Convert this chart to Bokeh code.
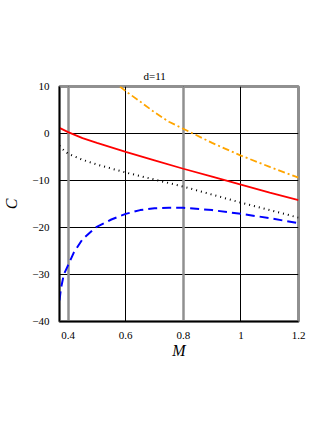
from bokeh.plotting import figure
from bokeh.models import Range1d, FixedTicker, Grid
from bokeh.embed import file_html
from bokeh.resources import INLINE

# data
m_blue = [0.37, 0.375, 0.385, 0.40, 0.42, 0.45, 0.495, 0.55, 0.60, 0.65, 0.70, 0.75, 0.80, 0.90, 1.00, 1.10, 1.20]
c_blue = [-35.5, -33.0, -30.0, -28.0, -25.3, -22.5, -20.0, -18.3, -17.1, -16.3, -15.9, -15.8, -15.8, -16.3, -17.1, -18.0, -19.1]

m_red = [0.37, 0.40, 0.45, 0.50, 0.60, 0.70, 0.80, 0.90, 1.00, 1.10, 1.20]
c_red = [1.2, 0.3, -1.0, -2.0, -3.9, -5.7, -7.5, -9.2, -10.9, -12.6, -14.2]

m_dot = [0.37, 0.38, 0.40, 0.45, 0.50, 0.60, 0.70, 0.80, 0.90, 1.00, 1.10, 1.20]
c_dot = [-2.6, -3.3, -4.3, -5.6, -6.6, -8.3, -9.8, -11.3, -13.0, -14.7, -16.3, -17.9]

m_orange = [0.58, 0.60, 0.65, 0.70, 0.75, 0.80, 0.90, 1.00, 1.10, 1.20]
c_orange = [10.0, 9.0, 6.8, 4.5, 2.5, 1.0, -2.0, -4.7, -7.1, -9.4]

x_ticks = [0.4, 0.6, 0.8, 1.0, 1.2]
x_tick_labels = {0.4: "0.4", 0.6: "0.6", 0.8: "0.8", 1.0: "1", 1.2: "1.2"}
gray_x = [0.4, 0.8]
y_ticks = [10, 0, -10, -20, -30, -40]
y_tick_labels = {10: "10", 0: "0", -10: "\u221210", -20: "\u221220", -30: "\u221230", -40: "\u221240"}

FONT = "Liberation Serif"

p = figure(frame_width=239, frame_height=235, output_backend="svg", toolbar_location=None,
           x_range=Range1d(0.37, 1.2), y_range=Range1d(-40, 10),
           min_border_left=48, min_border_right=20, min_border_top=86, min_border_bottom=10,
           background_fill_color="white", border_fill_color="white")

p.title.text = "d=11"
p.title.text_font = FONT
p.title.text_font_size = "11px"
p.title.text_font_style = "normal"
p.title.text_color = "black"
p.title.align = "left"
p.title.offset = 84

p.outline_line_color = "#909090"
p.outline_line_width = 3

for ax in (p.xaxis[0], p.yaxis[0]):
    ax.axis_line_color = "black"
    ax.axis_line_width = 1.5
    ax.major_tick_line_color = None
    ax.minor_tick_line_color = None
    ax.major_label_text_font = FONT
    ax.major_label_text_font_size = "11px"
    ax.major_label_text_color = "black"
    ax.axis_label_text_font = FONT
    ax.axis_label_text_font_style = "italic"
    ax.axis_label_text_font_size = "16px"
    ax.axis_label_text_color = "black"

p.xaxis.ticker = FixedTicker(ticks=x_ticks)
p.xaxis.major_label_overrides = x_tick_labels
p.xaxis.axis_label = "M"
p.xaxis.axis_label_standoff = 0
p.xaxis.major_label_standoff = 4

p.yaxis.ticker = FixedTicker(ticks=y_ticks)
p.yaxis.major_label_overrides = y_tick_labels
p.yaxis.axis_label = "C"
p.yaxis.axis_label_standoff = 9
p.yaxis.major_label_standoff = 4

p.xgrid.grid_line_color = "black"
p.xgrid.grid_line_width = 1
p.ygrid.grid_line_color = "black"
p.ygrid.grid_line_width = 1

gray_grid = Grid(dimension=0, ticker=FixedTicker(ticks=gray_x), grid_line_color="#909090", grid_line_width=2.5)
p.add_layout(gray_grid)

p.line(m_blue, c_blue, line_color="blue", line_width=2, line_dash="9 5")
p.line(m_dot, c_dot, line_color="black", line_width=2, line_dash="1 4")
p.line(m_red, c_red, line_color="red", line_width=1.8)
p.line(m_orange, c_orange, line_color="orange", line_width=1.8, line_dash="7 3 2 3")

open("out.html", "w").write(file_html(p, INLINE))
